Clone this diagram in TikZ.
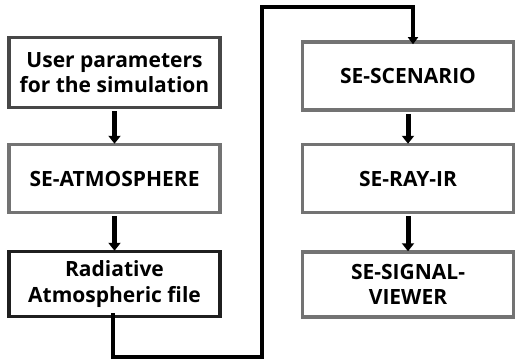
\documentclass[tikz,border=0pt]{standalone}
\usepackage{fontspec}
\setmainfont{Open Sans}
\usetikzlibrary{arrows.meta,positioning}
\begin{document}
\begin{tikzpicture}[x=1pt,y=-1pt,
  blk/.style={draw=#1,line width=3.5pt,fill=white,minimum width=211pt,align=center,
    font=\fontsize{21}{25.5}\selectfont\bfseries,inner sep=0pt},
  blk/.default={black!55},
  flow/.style={line width=5pt,-{Triangle[width=12pt,length=8pt]}},
  link/.style={line width=3.5pt,-{Triangle[width=10pt,length=7pt]}}]
\useasboundingbox (0,0) rectangle (517,361);
\node[blk={black!72},minimum height=70pt] (a) at (114.5,72.5) {User parameters\\for the simulation};
\node[blk,minimum height=68pt] (b) at (114.5,178.5) {SE-ATMOSPHERE};
\node[blk={black!88},minimum height=65pt] (c) at (114.5,284) {Radiative\\Atmospheric file};
\node[blk,minimum height=68pt] (d) at (408,76) {SE-SCENARIO};
\node[blk,minimum height=68pt] (e) at (408,178.5) {SE-RAY-IR};
\node[blk,minimum height=65pt] (f) at (408,284.5) {SE-SIGNAL-\\VIEWER};
\draw[flow] (a.south) ++(0,2) -- ([yshift=-1pt]b.north);
\draw[flow] (b.south) ++(0,2) -- ([yshift=-1pt]c.north);
\draw[flow] (d.south) ++(0,2) -- ([yshift=-1pt]e.north);
\draw[flow] (e.south) ++(0,2) -- ([yshift=-1pt]f.north);
\coordinate (p1) at (113,357);
\coordinate (p2) at (262,357);
\coordinate (p3) at (262,7);
\coordinate (p4) at (413,7);
\draw[link] ([yshift=5pt]c.south -| p1) -- (p1) -- (p2) -- (p3) -- (p4) -- ([yshift=-4pt]d.north -| p4);
\end{tikzpicture}
\end{document}
